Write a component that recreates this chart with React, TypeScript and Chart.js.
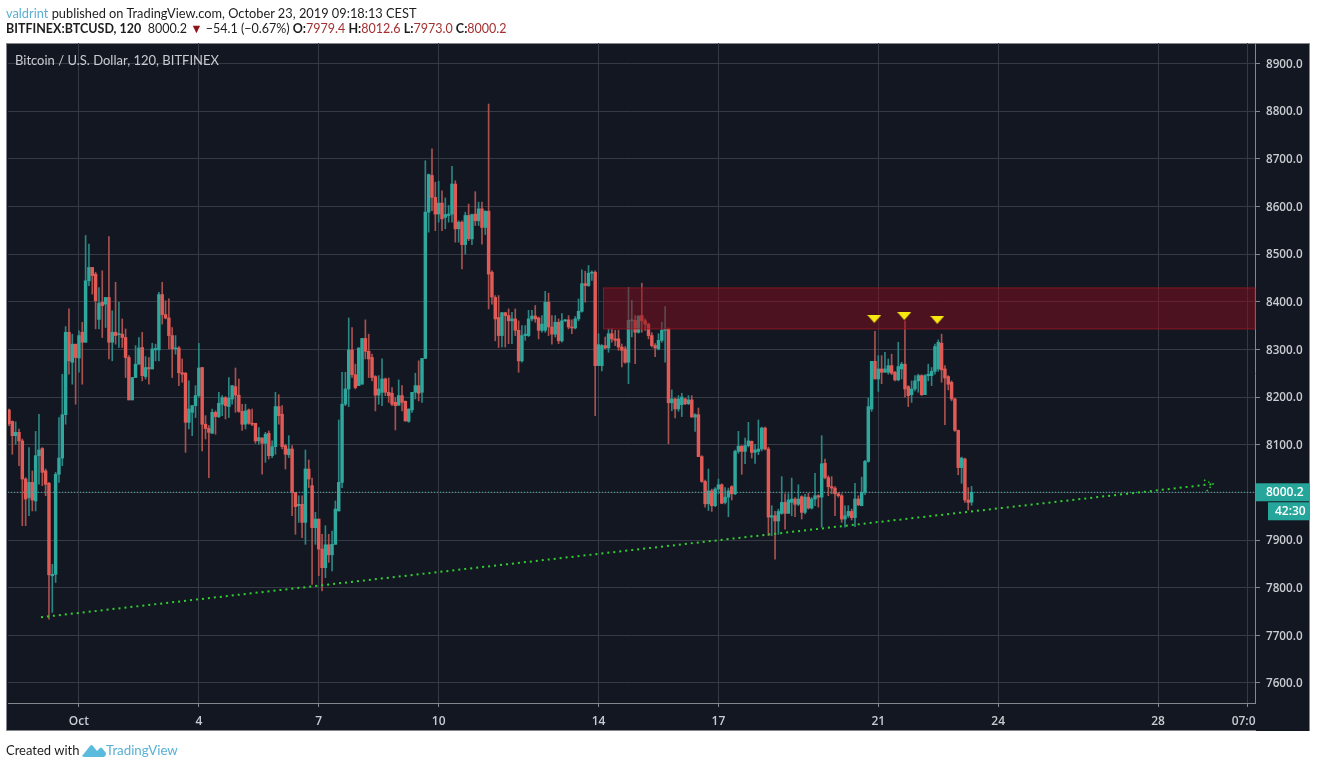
import { useEffect, useRef } from 'react';
import { Chart, registerables } from 'chart.js';

Chart.register(...registerables);

// 2h candles, bar 0 is Oct 1 00:00
const firstBar = -21;

const opens = [
  8173,8149,8119,8126,8108,8028,7989,8021,7982,8077,
  8092,8045,8019,7825,7828,8038,8072,8163,8336,8273,
  8311,8282,8336,8315,8444,8472,8458,8363,8399,8395,
  8409,8315,8336,8331,8332,8325,8283,8194,8241,8269,
  8304,8243,8262,8259,8299,8299,8415,8373,8366,8329,
  8301,8303,8251,8250,8147,8168,8182,8203,8262,8143,
  8134,8124,8168,8159,8185,8199,8180,8196,8222,8204,
  8170,8143,8173,8145,8145,8108,8114,8103,8124,8077,
  8096,8180,8164,8098,8079,8091,8000,7972,7975,7937,
  8049,8014,7926,7944,7881,7842,7890,7869,7891,7961,
  8021,8185,8217,8299,8247,8224,8227,8323,8296,8283,
  8243,8204,8210,8238,8210,8208,8189,8183,8203,8191,
  8149,8173,8210,8224,8210,8281,8588,8665,8619,8584,
  8607,8577,8581,8584,8647,8553,8567,8520,8581,8532,
  8584,8570,8595,8556,8590,8462,8409,8367,8329,8377,
  8371,8360,8364,8340,8276,8329,8329,8364,8370,8366,
  8340,8340,8399,8347,8332,8357,8318,8360,8362,8347,
  8345,8364,8380,8438,8434,8460,8462,8266,8266,8308,
  8303,8333,8322,8322,8305,8301,8273,8360,8361,8336,
  8371,8360,8353,8329,8308,8301,8319,8340,8343,8188,
  8196,8175,8184,8196,8186,8194,8158,8163,8075,8023,
  7976,8003,7972,8007,8016,7979,7990,8012,7997,8086,
  8097,8086,8098,8107,8084,8086,8091,8135,8091,7948,
  7951,7940,7956,7979,7956,7979,7986,7975,7991,7958,
  7990,7967,7986,7993,7990,8061,8031,8012,8009,7997,
  7993,7944,7951,7960,7947,7986,7972,8000,8065,8175,
  8275,8238,8259,8252,8252,8266,8252,8236,8259,8269,
  8222,8205,8217,8234,8245,8205,8245,8245,8254,8259,
  8313,8259,8243,8231,8196,8130,8052,8070,7984,7979.4,
];

const closes = [
  8144,8119,8126,8108,8028,7986,8021,7984,8077,8089,
  8042,8017,7827,7828,8038,8072,8163,8336,8276,8311,
  8283,8329,8315,8444,8472,8455,8402,8397,8392,8409,
  8315,8336,8329,8332,8325,8283,8194,8241,8269,8303,
  8245,8262,8259,8301,8302,8415,8373,8366,8329,8301,
  8303,8251,8248,8147,8175,8182,8203,8261,8143,8134,
  8126,8168,8159,8187,8199,8182,8198,8224,8204,8170,
  8143,8171,8145,8143,8108,8115,8103,8122,8077,8096,
  8180,8161,8096,8080,8091,8000,7970,7975,7937,8049,
  8028,7926,7944,7881,7842,7890,7869,7891,7965,8021,
  8185,8217,8299,8247,8220,8303,8323,8296,8280,8241,
  8204,8217,8238,8210,8203,8185,8182,8203,8189,8150,
  8175,8210,8224,8208,8281,8588,8667,8619,8584,8607,
  8574,8583,8584,8647,8553,8567,8520,8581,8532,8583,
  8570,8595,8556,8590,8458,8410,8364,8329,8377,8371,
  8360,8364,8340,8276,8329,8332,8364,8370,8364,8340,
  8353,8399,8347,8332,8357,8318,8360,8362,8347,8345,
  8364,8380,8438,8434,8460,8462,8266,8310,8308,8303,
  8333,8322,8319,8305,8298,8273,8361,8362,8336,8370,
  8360,8353,8329,8308,8303,8319,8340,8342,8188,8196,
  8175,8196,8200,8186,8194,8158,8163,8075,8023,7976,
  8003,7972,8007,8016,7977,7990,8003,7997,8086,8097,
  8086,8098,8108,8084,8089,8091,8135,8091,7948,7951,
  7940,7960,7979,7956,7984,7986,7975,7986,7958,7990,
  7967,7986,7993,7990,8060,8031,8012,8009,7997,7993,
  7944,7951,7960,7947,7986,7974,8000,8065,8180,8275,
  8238,8259,8252,8259,8266,8250,8236,8264,8269,8217,
  8203,8217,8234,8245,8205,8245,8248,8254,8306,8315,
  8257,8240,8227,8196,8130,8052,8072,7984,7979,8000.2,
];

const highs = [
  8175,8150,8148,8133,8112,8031,8094,8045,8128,8164,
  8094,8049,8021,7849,8042,8157,8248,8348,8385,8332,
  8311,8339,8357,8539,8521,8472,8462,8430,8465,8409,
  8537,8381,8441,8399,8364,8343,8287,8241,8308,8325,
  8336,8285,8283,8313,8311,8420,8441,8402,8406,8346,
  8329,8306,8280,8252,8234,8182,8224,8313,8262,8161,
  8140,8175,8171,8210,8203,8201,8241,8224,8261,8238,
  8185,8185,8175,8175,8145,8136,8115,8126,8129,8108,
  8210,8205,8182,8101,8119,8098,8000,7993,7993,8089,
  8068,8030,7958,7944,7912,7930,7912,7919,7982,8152,
  8252,8252,8366,8346,8269,8303,8323,8362,8332,8290,
  8245,8245,8280,8240,8240,8220,8199,8236,8224,8192,
  8175,8210,8250,8276,8281,8696,8668,8721,8651,8653,
  8633,8618,8602,8684,8654,8570,8570,8588,8605,8584,
  8631,8609,8609,8591,8815,8465,8413,8413,8378,8378,
  8385,8378,8385,8360,8350,8350,8382,8382,8392,8368,
  8371,8422,8418,8371,8371,8364,8375,8363,8371,8362,
  8369,8406,8467,8464,8476,8465,8465,8333,8310,8326,
  8343,8343,8340,8340,8311,8306,8430,8403,8371,8371,
  8439,8364,8355,8335,8312,8333,8357,8390,8345,8215,
  8198,8203,8208,8198,8203,8203,8165,8177,8077,8026,
  8049,8007,8010,8028,8018,8010,8009,8014,8089,8128,
  8098,8114,8147,8108,8101,8152,8137,8137,8095,7972,
  7960,7965,8033,7997,7997,8030,7989,8016,7993,7996,
  7998,7989,8040,7995,8119,8070,8035,8033,8012,8000,
  7997,7972,7972,7965,8019,7993,8032,8067,8198,8275,
  8338,8287,8287,8294,8280,8290,8254,8315,8273,8360,
  8224,8234,8245,8248,8247,8247,8269,8262,8311,8320,
  8332,8266,8245,8234,8198,8131,8074,8072,8010,8012.6,
];

const lows = [
  8140,8080,8101,8056,7930,7930,7951,7961,7961,8017,
  8014,7993,7734,7748,7811,8021,8056,8143,8248,8227,
  8185,8252,8227,8315,8434,8416,8343,8343,8325,8346,
  8280,8276,8311,8304,8304,8241,8194,8194,8241,8269,
  8234,8238,8227,8259,8276,8276,8353,8364,8301,8241,
  8290,8224,8231,8084,8133,8119,8157,8199,8087,8112,
  8031,8124,8122,8157,8161,8154,8157,8185,8168,8168,
  8130,8133,8143,8140,8103,8101,8038,8063,8070,8073,
  8080,8143,8091,8049,8073,7951,7912,7937,7905,7891,
  8010,7807,7891,7825,7793,7821,7853,7835,7891,7961,
  8010,8182,8180,8241,8217,8224,8227,8280,8241,8234,
  8171,8185,8182,8203,8189,8182,8131,8182,8171,8149,
  8147,8168,8196,8192,8189,8281,8546,8591,8549,8567,
  8549,8553,8567,8567,8525,8525,8469,8500,8528,8520,
  8560,8560,8521,8541,8385,8395,8318,8304,8305,8305,
  8312,8312,8329,8252,8273,8319,8327,8360,8357,8322,
  8336,8336,8329,8311,8326,8312,8315,8358,8343,8333,
  8343,8360,8378,8399,8432,8445,8161,8266,8255,8301,
  8294,8315,8308,8298,8263,8271,8228,8326,8270,8334,
  8336,8340,8322,8305,8285,8299,8315,8273,8102,8171,
  8156,8170,8159,8184,8184,8158,8128,8075,8021,7969,
  7962,7960,7970,7997,7976,7976,7949,7984,7995,8082,
  8038,8060,8095,8072,8061,8079,8087,8089,7909,7909,
  7860,7912,7954,7923,7956,7951,7949,7972,7944,7955,
  7965,7965,7972,7969,7927,8028,7993,7997,7951,7990,
  7937,7927,7947,7942,7928,7972,7972,7995,8063,8170,
  8238,8212,8228,8252,8248,8247,8234,8234,8238,8200,
  8180,8189,8213,8210,8203,8205,8234,8224,8248,8254,
  8231,8142,8215,8192,8128,8037,8019,7979,7963,7973,
];

const priceTicks = [7600,7700,7800,7900,8000,8100,8200,8300,8400,8500,8600,8700,8800,8900];
const timeTicks = [0,36,72,108,156,192,240,276,324,350.7];
const timeLabels = ['Oct','4','7','10','14','17','21','24','28','07:00'];

const lastPrice = 8000.2;
const countdown = '42:30';
const zone = { fromBar: 157.5, toBar: 353.1, top: 8429, bottom: 8343 };
const trendBars = [-11.4, 340.5];
const trendPrices = [7738, 8017.6];
const arrowBars = [337.8, 340.5, 338.4];
const arrowPrices = [8026, 8017.6, 8001];
const markerBars = [238.8, 247.8, 257.7];
const markerPrices = [8364, 8370, 8362];

const UP = '#30a79d';
const DOWN = '#e25a55';
const UP_WICK = '#2c8583';
const DOWN_WICK = '#a85250';
const PANEL = '#131722';
const GRID = '#363a45';
const AXIS = '#85878d';
const LABEL = '#c8cbd0';
const FONT = '"Open Sans", sans-serif';

const isUp = (i: number) => closes[i] >= opens[i];

const panelPlugin = {
  id: 'panel',
  beforeDraw(chart: any) {
    const { ctx } = chart;
    ctx.save();
    ctx.fillStyle = '#fff';
    ctx.fillRect(0, 0, chart.width, chart.height);
    ctx.fillStyle = PANEL;
    ctx.fillRect(6, 43, 1304, 688);
    ctx.strokeStyle = AXIS;
    ctx.strokeRect(6.5, 43.5, 1303, 687);
    ctx.restore();
  },
  // zone goes on top of the candles, under the drawings
  afterDatasetDraw(chart: any, args: any) {
    if (args.index !== 1) return;
    const { ctx, scales } = chart;
    const x0 = scales.x.getPixelForValue(zone.fromBar);
    const x1 = scales.x.getPixelForValue(zone.toBar);
    const y0 = scales.y.getPixelForValue(zone.top);
    const y1 = scales.y.getPixelForValue(zone.bottom);
    ctx.save();
    ctx.fillStyle = 'rgba(136,14,28,0.5)';
    ctx.fillRect(x0, y0, x1 - x0, y1 - y0);
    ctx.strokeStyle = 'rgba(150,24,36,0.85)';
    ctx.strokeRect(x0, y0, x1 - x0, y1 - y0);
    ctx.restore();
  },
  afterDraw(chart: any) {
    const { ctx, scales, chartArea } = chart;
    ctx.save();
    // last time label is cut off by the price axis
    ctx.fillStyle = PANEL;
    ctx.fillRect(chartArea.right + 1, chartArea.bottom + 1, 53, 27);
    const y = scales.y.getPixelForValue(lastPrice);
    ctx.fillStyle = '#26a69a';
    ctx.fillRect(chartArea.right + 1, y - 9, 54, 18);
    ctx.fillRect(chartArea.right + 13, y + 10, 42, 18);
    ctx.fillStyle = '#fff';
    ctx.font = `600 12px ${FONT}`;
    ctx.textBaseline = 'middle';
    ctx.fillText(lastPrice.toFixed(1), chartArea.right + 11, y + 0.5);
    ctx.fillText(countdown, chartArea.right + 20, y + 19.5);
    ctx.restore();
  },
};

function markerImage() {
  const c = document.createElement('canvas');
  c.width = 14;
  c.height = 8;
  const g = c.getContext('2d')!;
  g.fillStyle = '#f5e90f';
  g.beginPath();
  g.moveTo(0, 0);
  g.lineTo(14, 0);
  g.lineTo(7, 8);
  g.closePath();
  g.fill();
  return c;
}

export default function App() {
  const canvasRef = useRef<HTMLCanvasElement>(null);

  useEffect(() => {
    if (!canvasRef.current) return;
    const bars = opens.map((_, i) => firstBar + i);

    const chart = new Chart(canvasRef.current, {
      type: 'bar',
      data: {
        datasets: [
          {
            type: 'bar',
            data: bars.map((x, i) => ({ x, y: [lows[i], highs[i]] })),
            backgroundColor: bars.map((_, i) => (isUp(i) ? UP_WICK : DOWN_WICK)),
            barThickness: 1,
            grouped: false,
            order: 5,
          },
          {
            type: 'bar',
            data: bars.map((x, i) => ({ x, y: [opens[i], closes[i]] })),
            backgroundColor: bars.map((_, i) => (isUp(i) ? UP : DOWN)),
            barThickness: 2.8,
            minBarLength: 1,
            grouped: false,
            order: 4,
          },
          {
            type: 'line',
            data: [{ x: -21.3, y: lastPrice }, { x: 353.1, y: lastPrice }],
            borderColor: '#4fb3aa',
            borderWidth: 1,
            borderDash: [1, 2],
            pointRadius: 0,
            order: 3,
          },
          {
            type: 'line',
            data: trendBars.map((x, i) => ({ x, y: trendPrices[i] })),
            borderColor: '#2fd02f',
            borderWidth: 2,
            borderDash: [2, 4],
            pointRadius: 0,
            order: 2,
          },
          {
            type: 'line',
            data: arrowBars.map((x, i) => ({ x, y: arrowPrices[i] })),
            borderColor: '#2fd02f',
            borderWidth: 1.5,
            borderDash: [1.5, 3],
            pointRadius: 0,
            order: 2,
          },
          {
            type: 'scatter',
            data: markerBars.map((x, i) => ({ x, y: markerPrices[i] })),
            pointStyle: markerImage(),
            pointRadius: 7,
            order: 1,
          },
        ] as any,
      },
      options: {
        responsive: false,
        devicePixelRatio: 1,
        animation: false,
        layout: { padding: { left: 7, right: 7, top: 43, bottom: 37 } },
        plugins: { legend: { display: false }, tooltip: { enabled: false } },
        scales: {
          x: {
            type: 'linear',
            offset: false,
            min: -21.3,
            max: 353.1,
            afterBuildTicks: (scale: any) => {
              scale.ticks = timeTicks.map((value) => ({ value }));
            },
            afterFit: (scale: any) => {
              scale.height = 28;
            },
            ticks: {
              autoSkip: false,
              maxRotation: 0,
              padding: 7,
              color: LABEL,
              font: { family: FONT, size: 12, weight: 600 },
              callback: (_v: any, i: number) => timeLabels[i],
            },
            grid: { offset: false, color: GRID, tickColor: AXIS, tickLength: 4 },
            border: { color: AXIS },
          },
          y: {
            position: 'right',
            min: 7558,
            max: 8943,
            afterBuildTicks: (scale: any) => {
              scale.ticks = priceTicks.map((value) => ({ value }));
            },
            afterFit: (scale: any) => {
              scale.width = 55;
            },
            ticks: {
              padding: 6,
              labelOffset: 1,
              color: LABEL,
              font: { family: FONT, size: 11.7, weight: 600 },
              callback: (v: any) => Number(v).toFixed(1),
            },
            grid: { color: GRID, tickColor: AXIS, tickLength: 5 },
            border: { color: AXIS },
          },
        },
      } as any,
      plugins: [panelPlugin],
    });

    return () => {
      chart.destroy();
    };
  }, []);

  const red = { color: '#a52f30' };
  const text: React.CSSProperties = {
    position: 'absolute',
    left: 6,
    whiteSpace: 'nowrap',
    fontFamily: 'Lato, sans-serif',
    fontSize: 13,
    lineHeight: '16px',
    color: '#1d1d1d',
  };

  return (
    <div style={{ position: 'absolute', left: 0, top: 0, width: 1317, height: 768, background: '#fff', overflow: 'hidden' }}>
      <canvas ref={canvasRef} width={1317} height={768} style={{ display: 'block' }} />
      <div style={{ ...text, top: 5, fontSize: 12.8 }}>
        <span style={{ color: '#5ab0d4' }}>valdrint</span> published on TradingView.com, October 23, 2019 09:18:13 CEST
      </div>
      <div style={{ ...text, top: 21, fontSize: 12.5 }}>
        <b>BITFINEX:BTCUSD, 120</b>&nbsp; 8000.2 <span style={{ color: '#8e1416' }}>▼</span> −54.1 (−0.67%){' '}
        <b>O:</b><span style={red}>7979.4</span> <b>H:</b><span style={red}>8012.6</span>{' '}
        <b>L:</b><span style={red}>7973.0</span> <b>C:</b><span style={red}>8000.2</span>
      </div>
      <div style={{ ...text, left: 15, top: 52, color: '#c8cbd0' }}>Bitcoin / U.S. Dollar, 120, BITFINEX</div>
      <div style={{ ...text, top: 742 }}>Created with</div>
      <svg style={{ position: 'absolute', left: 82, top: 743 }} width="24" height="15" viewBox="0 0 24 15">
        <path d="M0 13 L8 3 Q9.5 1 11 3 L15 8 L18 5 Q19 4 20 5 L24 10 Q24 14 21 14 L3 14 Q1 14 0 13 Z" fill="#5bbbdc" />
      </svg>
      <div style={{ ...text, left: 106, top: 742, color: '#5ab0d4', fontSize: 13.3 }}>TradingView</div>
    </div>
  );
}
